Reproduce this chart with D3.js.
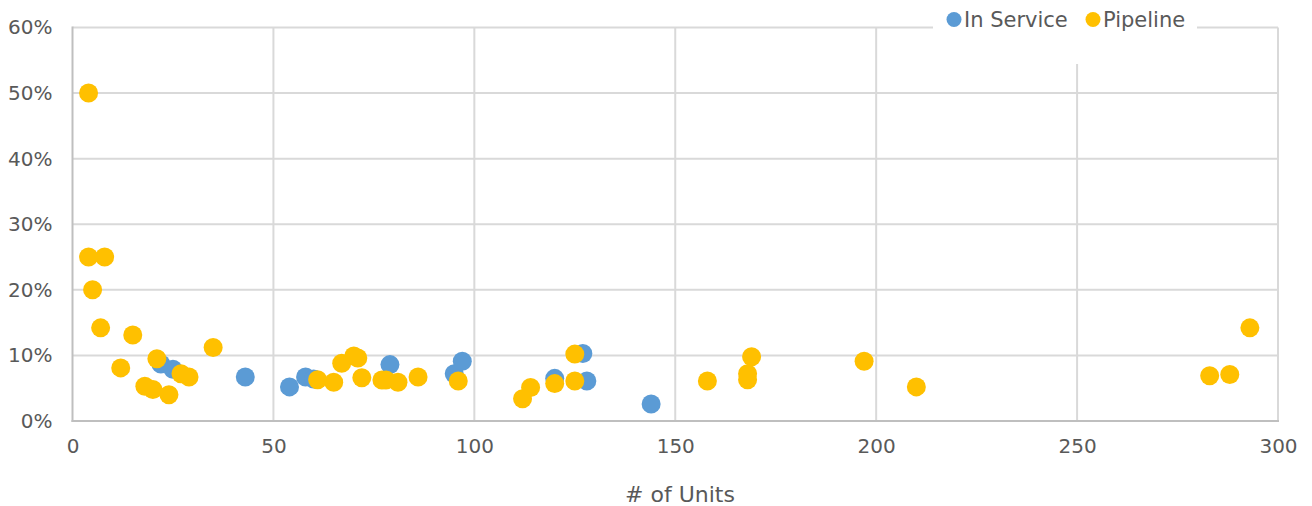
<!DOCTYPE html>
<html>
<head>
<meta charset="utf-8">
<script src="https://cdn.jsdelivr.net/npm/d3@7"></script>
<style>
  html, body { margin: 0; padding: 0; background: #ffffff; }
  svg { display: block; }
  text { font-family: "DejaVu Sans", sans-serif; fill: #595959; }
</style>
</head>
<body>
<svg id="chart" width="1312" height="506"></svg>
<script>
// Units per property vs. rate, by status
const inServiceUnits = [22, 25, 43, 54, 58, 60, 79, 95, 97, 120, 127, 128, 144];
const inServiceRate  = [0.087, 0.079, 0.067, 0.052, 0.067, 0.064, 0.086, 0.072, 0.091, 0.065, 0.103, 0.061, 0.026];

const pipelineUnits = [4, 4, 8, 5, 7, 12, 15, 18, 20, 21, 24, 27, 29, 35, 61, 65, 67, 70, 71, 72, 77, 78, 81, 86, 96, 112, 114, 120, 125, 125, 158, 168, 168, 169, 197, 210, 283, 288, 293];
const pipelineRate  = [0.50, 0.25, 0.25, 0.20, 0.142, 0.081, 0.131, 0.053, 0.048, 0.095, 0.040, 0.072, 0.067, 0.112, 0.063, 0.059, 0.088, 0.099, 0.096, 0.066, 0.0625, 0.0625, 0.059, 0.067, 0.061, 0.034, 0.051, 0.057, 0.102, 0.061, 0.061, 0.072, 0.063, 0.098, 0.091, 0.052, 0.069, 0.071, 0.142];

const xTicks = [0, 50, 100, 150, 200, 250, 300];
const yTicks = [0, 0.1, 0.2, 0.3, 0.4, 0.5, 0.6];

const seriesNames = ["In Service", "Pipeline"];
const seriesColors = ["#5B9BD5", "#FFC000"];
const xTitle = "# of Units";

const svg = d3.select("#chart");
const x = d3.scaleLinear().domain([0, 300]).range([72.5, 1278]);
const y = d3.scaleLinear().domain([0, 0.6]).range([421, 27.5]);

// gridlines
const grid = svg.append("g");
grid.selectAll("line.h").data(yTicks.filter(d => d > 0)).join("line")
  .attr("x1", x(0)).attr("x2", x(300))
  .attr("y1", d => y(d)).attr("y2", d => y(d))
  .attr("stroke", "#d9d9d9").attr("stroke-width", 2);
grid.selectAll("line.v").data(xTicks.filter(d => d > 0)).join("line")
  .attr("x1", d => x(d)).attr("x2", d => x(d))
  .attr("y1", y(0.6)).attr("y2", y(0))
  .attr("stroke", "#d9d9d9").attr("stroke-width", 2);

// axis lines
svg.append("line").attr("x1", x(0)).attr("x2", x(0)).attr("y1", y(0.6) - 1).attr("y2", y(0) + 1)
  .attr("stroke", "#bfbfbf").attr("stroke-width", 2);
svg.append("line").attr("x1", x(0) - 1).attr("x2", x(300) + 1).attr("y1", y(0)).attr("y2", y(0))
  .attr("stroke", "#bfbfbf").attr("stroke-width", 2);

// y tick labels
const yAxis = d3.axisLeft(y).tickValues(yTicks).tickFormat(d3.format(".0%")).tickSize(0).tickPadding(20);
const yg = svg.append("g").attr("transform", `translate(${x(0)},0)`).call(yAxis);
yg.select(".domain").remove();
yg.selectAll("text").style("font-family", "DejaVu Sans, sans-serif").style("font-size", "20px").attr("fill", "#595959");

// x tick labels
const xAxis = d3.axisBottom(x).tickValues(xTicks).tickFormat(d3.format("d")).tickSize(0).tickPadding(18);
const xg = svg.append("g").attr("transform", `translate(0,${y(0)})`).call(xAxis);
xg.select(".domain").remove();
xg.selectAll("text").style("font-family", "DejaVu Sans, sans-serif").style("font-size", "20px").attr("fill", "#595959");

// x axis title
svg.append("text").attr("x", 680).attr("y", 502).attr("text-anchor", "middle")
  .style("font-size", "22px").text(xTitle);

// points
const inService = inServiceUnits.map((u, i) => ({ u, r: inServiceRate[i] }));
const pipeline = pipelineUnits.map((u, i) => ({ u, r: pipelineRate[i] }));
[inService, pipeline].forEach((data, k) => {
  svg.append("g").selectAll("circle").data(data).join("circle")
    .attr("cx", d => x(d.u)).attr("cy", d => y(d.r)).attr("r", 9.5)
    .attr("fill", seriesColors[k]);
});

// legend
svg.append("rect").attr("x", 933).attr("y", 0).attr("width", 264).attr("height", 64).attr("fill", "#ffffff");
const legendX = [954, 1093];
seriesNames.forEach((name, i) => {
  svg.append("circle").attr("cx", legendX[i]).attr("cy", 19.5).attr("r", 7.5).attr("fill", seriesColors[i]);
  svg.append("text").attr("x", legendX[i] + 10).attr("y", 27).style("font-size", "21px").text(name);
});
</script>
</body>
</html>
